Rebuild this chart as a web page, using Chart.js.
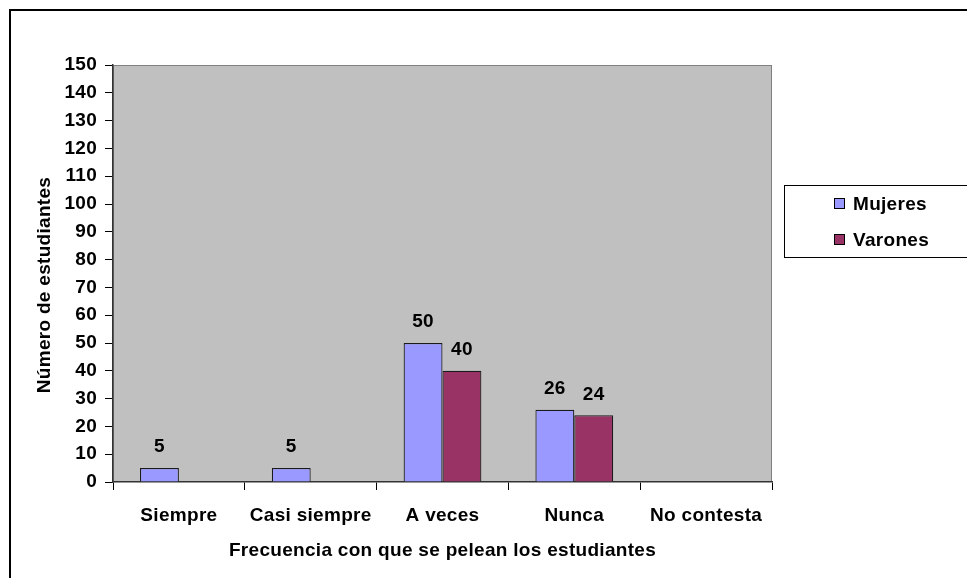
<!DOCTYPE html>
<html>
<head>
<meta charset="utf-8">
<script src="https://cdn.jsdelivr.net/npm/chart.js@4/dist/chart.umd.min.js"></script>
<style>
  html, body { margin: 0; padding: 0; background: #fff; }
  #c { display: block; }
</style>
</head>
<body>
<canvas id="c" width="967" height="578"></canvas>
<script>
const categories = ['Siempre', 'Casi siempre', 'A veces', 'Nunca', 'No contesta'];
const mujeres = [5, 5, 50, 26, 0];
const varones = [0, 0, 40, 24, 0];
const seriesNames = ['Mujeres', 'Varones'];
const yMin = 0, yMax = 150, yStep = 10;
const xTitle = 'Frecuencia con que se pelean los estudiantes';
const yTitle = 'Número de estudiantes';

const FONT = '"Liberation Sans", Arial, sans-serif';
const SPACING = '0.3px';
const FS = 19;

const decor = {
  id: 'decor',
  beforeDraw(chart) {
    const ctx = chart.ctx;
    const a = chart.chartArea;
    ctx.save();
    ctx.fillStyle = '#fff';
    ctx.fillRect(0, 0, chart.width, chart.height);
    ctx.strokeStyle = '#000';
    ctx.lineWidth = 2;
    ctx.strokeRect(10, 10, 1200, 1000);
    ctx.fillStyle = '#C0C0C0';
    ctx.fillRect(a.left, a.top, a.right - a.left, a.bottom - a.top);
    ctx.strokeStyle = '#808080';
    ctx.lineWidth = 1;
    ctx.strokeRect(a.left + 0.5, a.top + 0.5, a.right - a.left - 1, a.bottom - a.top - 1);
    ctx.restore();
    ctx.letterSpacing = SPACING;
  },
  afterDatasetsDraw(chart) {
    const ctx = chart.ctx;
    ctx.save();
    ctx.letterSpacing = SPACING;
    ctx.font = 'bold ' + FS + 'px ' + FONT;
    ctx.fillStyle = '#000';
    ctx.textAlign = 'center';
    ctx.textBaseline = 'middle';
    chart.data.datasets.forEach((ds, i) => {
      const meta = chart.getDatasetMeta(i);
      meta.data.forEach((bar, j) => {
        const v = ds.data[j];
        if (v > 0) ctx.fillText(String(v), bar.x, bar.y - 21);
      });
    });
    ctx.restore();
  },
  afterDraw(chart) {
    const ctx = chart.ctx;
    const a = chart.chartArea;
    ctx.save();
    ctx.letterSpacing = SPACING;
    ctx.fillStyle = '#000';
    ctx.font = 'bold ' + FS + 'px ' + FONT;
    ctx.textAlign = 'center';
    ctx.textBaseline = 'middle';
    ctx.fillText(xTitle, (a.left + a.right) / 2, 551);
    ctx.save();
    ctx.translate(45, 285);
    ctx.rotate(-Math.PI / 2);
    ctx.fillText(yTitle, 0, 0);
    ctx.restore();
    ctx.strokeStyle = '#000';
    ctx.lineWidth = 1;
    ctx.strokeRect(784.5, 185.5, 220, 72);
    const ys = [204, 240];
    chart.data.datasets.forEach((ds, i) => {
      ctx.fillStyle = ds.backgroundColor;
      ctx.fillRect(834, ys[i] - 6, 11, 11);
      ctx.strokeStyle = '#000';
      ctx.strokeRect(834.5, ys[i] - 5.5, 10, 10);
      ctx.fillStyle = '#000';
      ctx.textAlign = 'left';
      ctx.fillText(ds.label, 853, ys[i] + 1);
    });
    ctx.restore();
  }
};

new Chart(document.getElementById('c'), {
  type: 'bar',
  data: {
    labels: categories,
    datasets: [
      { label: seriesNames[0], data: mujeres, backgroundColor: '#9999FF', borderColor: '#1a1a1a', borderWidth: 1.2, borderSkipped: 'bottom' },
      { label: seriesNames[1], data: varones, backgroundColor: '#993366', borderColor: '#1a1a1a', borderWidth: 1.2, borderSkipped: 'bottom' }
    ]
  },
  options: {
    responsive: false,
    animation: false,
    events: [],
    datasets: { bar: { categoryPercentage: 0.59, barPercentage: 1.0 } },
    layout: { padding: { left: 0, top: 65, right: 195, bottom: 0 } },
    plugins: { legend: { display: false }, tooltip: { enabled: false } },
    scales: {
      x: {
        afterFit(s) { s.height = 96; },
        grid: { offset: true, drawOnChartArea: false, drawTicks: true, tickLength: 8, color: '#000', lineWidth: 1 },
        border: { color: '#333', width: 1.5 },
        ticks: { color: '#000', padding: 14, font: { family: FONT, size: FS, weight: 'bold' }, maxRotation: 0, autoSkip: false }
      },
      y: {
        min: yMin, max: yMax,
        afterFit(s) { s.width = 113; },
        grid: { drawOnChartArea: false, drawTicks: true, tickLength: 8, color: '#000', lineWidth: 1 },
        border: { color: '#333', width: 1.5 },
        ticks: { stepSize: yStep, color: '#000', padding: 8, font: { family: FONT, size: FS, weight: 'bold' } }
      }
    }
  },
  plugins: [decor]
});
</script>
</body>
</html>
